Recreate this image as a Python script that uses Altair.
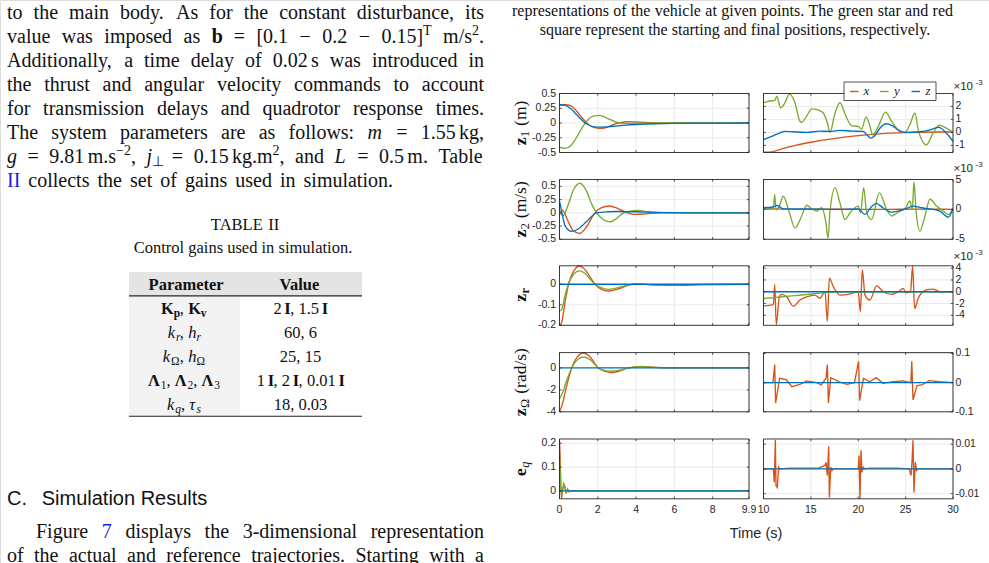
import altair as alt
import pandas as pd

# ---------------- fonts & colours ----------------
SERIF = "Liberation Serif"
SANS = "Liberation Sans"
INK = "#111111"
LINK = "#1a1aee"
RED, GREEN, BLUE = "#D95319", "#77AC30", "#0072BD"
AXIS = "#262626"
GRID = "#e2e2e2"

# ---------------- simulation traces: (time [s], value) ----------------
# left column, t in [0, 9.9]
Z1L_X = [(0, 0.31), (0.3, 0.31), (0.6, 0.29), (0.9, 0.2), (1.2, 0.08), (1.5, -0.02), (1.8, -0.075),
         (2.1, -0.09), (2.4, -0.08), (3.0, -0.005), (3.5, 0.022), (4.0, 0.018), (5.0, 0.003),
         (6.0, 0.0), (8.0, 0.0), (9.9, 0.0)]
Z1L_Y = [(0, -0.41), (0.3, -0.43), (0.6, -0.38), (0.9, -0.24), (1.2, -0.07), (1.5, 0.06), (1.8, 0.12),
         (2.1, 0.13), (2.5, 0.08), (3.0, 0.01), (3.5, -0.01), (4.0, -0.005), (5.0, 0.002),
         (6.0, 0.0), (8.0, 0.0), (9.9, 0.0)]
Z1L_Z = [(0, 0.31), (0.3, 0.30), (0.6, 0.24), (0.9, 0.14), (1.2, 0.04), (1.5, -0.03), (1.8, -0.065),
         (2.1, -0.07), (2.5, -0.065), (3.0, -0.05), (3.5, -0.035), (4.0, -0.025), (5.0, -0.012),
         (6.0, -0.006), (8.0, -0.002), (9.9, 0.0)]

Z2L_X = [(0, 0.0), (0.15, 0.05), (0.4, -0.12), (0.7, -0.33), (1.05, -0.39), (1.4, -0.27), (1.85, 0.0),
         (2.2, 0.10), (2.6, 0.13), (3.0, 0.09), (3.4, 0.02), (4.0, -0.03), (4.6, -0.015), (5.5, 0.0),
         (7.0, 0.0), (9.9, 0.0)]
Z2L_Y = [(0, 0.0), (0.2, -0.05), (0.45, 0.15), (0.75, 0.45), (1.07, 0.56), (1.4, 0.42), (1.7, 0.15),
         (1.94, 0.0), (2.3, -0.13), (2.64, -0.17), (3.0, -0.1), (3.3, -0.01), (3.7, 0.03), (4.1, 0.045),
         (4.6, 0.02), (5.5, 0.0), (7.0, 0.0), (9.9, 0.0)]
Z2L_Z = [(0, 0.22), (0.1, 0.05), (0.3, -0.25), (0.64, -0.35), (1.0, -0.30), (1.4, -0.17), (1.94, 0.0),
         (2.5, 0.02), (3.0, 0.025), (4.0, 0.02), (5.0, 0.01), (6.0, 0.003), (7.0, 0.0), (9.9, 0.0)]

ZRL_X = [(0, -0.2), (0.1, -0.19), (0.3, -0.08), (0.5, 0.01), (0.75, 0.065), (1.04, 0.089), (1.3, 0.075),
         (1.6, 0.035), (1.86, 0.0), (2.2, -0.025), (2.55, -0.033), (3.0, -0.025), (3.5, -0.008),
         (4.0, 0.003), (5.0, -0.004), (6.0, -0.005), (7.5, -0.002), (9.9, 0.0)]
ZRL_Y = [(0, -0.13), (0.1, -0.125), (0.3, -0.05), (0.5, 0.01), (0.75, 0.05), (1.04, 0.065), (1.3, 0.055),
         (1.6, 0.025), (1.86, 0.0), (2.2, -0.018), (2.55, -0.025), (3.0, -0.018), (3.5, -0.006),
         (4.0, 0.002), (5.0, -0.003), (6.0, -0.003), (7.5, -0.001), (9.9, 0.0)]
ZRL_Z = [(0, 0.0), (2.5, 0.0), (5.0, 0.0), (7.5, 0.0), (9.9, 0.0)]

ZOL_X = [(0, -4.0), (0.15, -3.3), (0.35, -1.8), (0.64, 0.0), (0.9, 0.95), (1.25, 1.36), (1.6, 1.0),
         (2.03, 0.0), (2.35, -0.3), (2.73, -0.42), (3.1, -0.3), (3.6, 0.0), (4.3, 0.15), (5.0, 0.05),
         (6.0, 0.0), (9.9, 0.0)]
ZOL_Y = [(0, -2.8), (0.15, -2.3), (0.35, -1.25), (0.64, 0.0), (0.9, 0.7), (1.25, 1.0), (1.6, 0.75),
         (2.03, 0.0), (2.35, -0.22), (2.73, -0.3), (3.1, -0.22), (3.6, 0.0), (4.3, 0.12), (5.0, 0.04),
         (6.0, 0.0), (9.9, 0.0)]
ZOL_Z = [(0, 0.0), (2.5, 0.0), (5.0, 0.0), (7.5, 0.0), (9.9, 0.0)]

EQL_X = [(0, 0.21), (0.03, 0.15), (0.07, 0.02), (0.11, -0.03), (0.16, 0.0), (0.22, 0.03), (0.28, 0.02),
         (0.35, -0.01), (0.42, 0.008), (0.5, -0.004), (0.6, 0.0), (1.0, 0.0), (9.9, 0.0)]
EQL_Y = [(0, 0.14), (0.03, 0.1), (0.07, 0.01), (0.11, -0.02), (0.16, 0.0), (0.22, 0.025), (0.28, 0.015),
         (0.35, -0.006), (0.42, 0.005), (0.5, -0.002), (0.6, 0.0), (1.0, 0.0), (9.9, 0.0)]
EQL_Z = [(0, 0.0), (2.5, 0.0), (5.0, 0.0), (7.5, 0.0), (9.9, 0.0)]

# right column, t in [10, 30]; rows 1-3 in units of 1e-3
Z1R_X = [(10, -1.52), (10.9, -1.5), (11.6, -1.35), (12.4, -1.18), (13.5, -0.98), (15, -0.76),
         (17.4, -0.48), (20, -0.25), (22.3, -0.11), (25, -0.02), (28.6, 0.03), (30, 0.03)]
Z1R_Y = [(10.0, 2.29), (10.69, 2.42), (11.21, 2.47), (11.39, 2.8), (11.81, 1.9), (12.27, 2.29),
         (12.73, 2.95), (13.32, 2.29), (13.85, 0.86), (14.03, 0.78), (14.55, 1.25), (15.08, 1.82),
         (15.79, 1.71), (16.31, 1.5), (16.74, 0.73), (17.02, 0.0), (17.55, 1.5), (18.07, 2.29),
         (18.7, 1.25), (19.3, 0.52), (20.0, 0.47), (20.36, 0.26), (20.82, 1.2), (21.24, 0.47),
         (21.52, -0.18), (22.12, 0.47), (22.89, 1.56), (23.52, 0.86), (24.23, 0.2), (24.93, 0.0),
         (25.45, 0.6), (25.98, 1.5), (26.33, 0.2), (27.2, -0.96), (27.9, -0.05), (28.55, 0.55),
         (29.15, 0.39), (30.0, 0.0)]
Z1R_Z = [(10, -0.57), (11, -0.26), (11.7, -0.05), (12.3, 0.08), (13.1, 0.05), (14.55, 0.0), (16, 0.1),
         (17, 0.08), (18, 0.16), (19.4, 0.1), (20.5, 0.08), (20.9, -0.18), (21.3, -0.44), (21.8, -0.2),
         (22.3, 0.34), (23, 0.67), (23.7, 0.47), (24.4, 0.08), (25.1, 0.0), (26.5, 0.05), (27.6, 0.2),
         (28.5, 0.39), (29.3, -0.05), (30, -0.7)]

Z2R_X = [(10, 0.05), (11.2, 0.1), (14, 0.0), (17, 0.05), (20, 0.0), (23, 0.0), (26, 0.05), (30, 0.0)]
Z2R_Y = [(10.0, 0.1), (11.04, 0.1), (11.18, 2.5), (11.32, -0.1), (11.67, 0.56), (12.09, 2.2),
         (12.73, -0.56), (13.32, -3.1), (14.03, -1.1), (14.55, 0.7), (15.08, 0.1), (15.61, -0.3),
         (16.13, 0.28), (16.59, -2.25), (16.81, -4.8), (17.02, -0.3), (17.55, 3.65), (18.07, 1.1),
         (18.6, -1.7), (19.13, -0.56), (20.0, 0.56), (20.25, -0.56), (20.57, 3.65), (20.89, -0.56),
         (21.41, -1.7), (22.22, 2.8), (23.0, 0.0), (23.52, -1.1), (24.23, -0.45), (25.0, 0.28),
         (25.45, 1.4), (25.7, 0.0), (25.88, 4.6), (26.09, 0.0), (26.51, -3.65), (27.04, -1.1),
         (27.57, 1.7), (28.27, 0.56), (28.98, -0.28), (29.51, -0.84), (30.0, 0.1)]
Z2R_Z = [(10.0, 0.28), (11.0, 0.4), (11.4, 0.67), (12.1, 0.1), (14.55, 0.1), (18.0, 0.0), (20.0, 0.1),
         (20.7, -0.84), (21.4, 0.45), (21.9, 1.0), (22.6, 0.28), (23.5, -0.45), (25.0, 0.1),
         (25.8, 0.56), (26.7, 0.28), (28.6, -0.28), (29.5, -1.3), (30.0, 0.1)]

ZRR_X = [(10.0, -2.4), (11.04, -2.2), (11.18, 1.25), (11.35, -5.6), (11.67, -0.86), (11.92, -0.45),
         (12.44, -0.86), (13.15, -2.45), (13.85, -1.4), (14.55, -0.86), (15.43, -0.57), (15.96, -1.1),
         (16.49, 0.0), (16.74, -5.0), (16.95, 2.3), (17.37, 0.86), (18.07, -0.57), (18.95, -0.45),
         (20.0, 0.0), (20.22, -3.4), (20.43, 3.7), (20.71, -0.57), (21.24, -1.4), (21.94, 1.0),
         (22.64, 0.0), (23.52, -0.45), (24.23, 0.0), (24.76, 0.57), (25.0, -0.17), (25.52, 0.0),
         (25.74, 4.35), (25.95, -2.85), (26.33, -1.1), (27.2, 0.3), (27.9, 0.45), (28.62, 0.0),
         (30.0, 0.0)]
ZRR_Y = [(10, -1.15), (12, -0.85), (14, -0.55), (16, -0.25), (17.7, 0.0), (20, 0.0), (25, 0.0), (30, 0.0)]
ZRR_Z = [(10, 0.0), (15, 0.0), (20, 0.0), (25, 0.0), (30, 0.0)]

ZOR_X = [(10.0, 0.0), (11.0, 0.0), (11.18, 0.062), (11.28, -0.07), (11.7, 0.015), (12.4, 0.01),
         (13.0, -0.014), (13.85, -0.006), (14.55, 0.006), (15.6, 0.0), (16.1, -0.008), (16.6, 0.015),
         (16.74, 0.062), (16.85, -0.07), (17.1, 0.017), (18.0, 0.003), (18.8, -0.006), (19.6, 0.0),
         (20.04, 0.073), (20.14, -0.062), (20.55, 0.015), (21.2, 0.003), (21.9, 0.017), (22.6, -0.002),
         (23.7, 0.003), (24.7, 0.006), (25.55, 0.0), (25.65, 0.073), (25.78, -0.059), (26.2, -0.01),
         (26.7, -0.008), (27.5, 0.007), (28.6, 0.003), (30.0, 0.0)]
ZOR_Z = [(10, 0.0), (15, 0.0), (20, 0.0), (25, 0.0), (30, 0.0)]

EQR_X = [(10.0, 0.0), (11.04, 0.0), (11.14, -0.0054), (11.25, 0.0118), (11.32, -0.0068), (11.46, -0.0075),
         (11.6, 0.0007), (11.74, 0.0), (12.8, 0.0003), (15.79, 0.0003), (16.49, 0.0014), (16.6, 0.0027),
         (16.74, -0.0027), (16.88, 0.0092), (16.95, -0.0116), (17.09, 0.0007), (17.23, -0.0007),
         (17.37, 0.0), (20.0, 0.0), (20.08, 0.0054), (20.18, -0.012), (20.29, 0.0075), (20.39, -0.0014),
         (20.53, 0.0007), (20.71, 0.0), (21.24, 0.0003), (24.05, 0.0003), (25.39, 0.0), (25.46, -0.0014),
         (25.57, -0.0027), (25.67, 0.0027), (25.78, 0.0116), (25.88, -0.0095), (26.02, 0.0027),
         (26.16, -0.0007), (26.33, 0.0), (30.0, 0.0)]
EQR_Z = [(10, 0.0), (15, 0.0), (20, 0.0), (25, 0.0), (30, 0.0)]

# ---------------- axes ----------------
LEFT_XDOM, RIGHT_XDOM = (0, 9.9), (10, 30)
LEFT_XTICKS, LEFT_XLABELS = [0, 2, 4, 6, 8, 9.9], ["0", "2", "4", "6", "8", "9.9"]
RIGHT_XTICKS, RIGHT_XLABELS = [10, 15, 20, 25, 30], ["10", "15", "20", "25", "30"]

LEFT_YDOM = [(-0.5, 0.5), (-0.5, 0.63), (-0.2, 0.09), (-4, 1.4), (-0.033, 0.218)]
LEFT_YTICKS = [[-0.5, -0.25, 0, 0.25, 0.5], [-0.5, -0.25, 0, 0.25, 0.5], [-0.2, -0.1, 0], [-4, -2, 0], [0, 0.1, 0.2]]
LEFT_YLABELS = [["-0.5", "-0.25", "0", "0.25", "0.5"], ["-0.5", "-0.25", "0", "0.25", "0.5"],
                ["-0.2", "-0.1", "0"], ["-4", "-2", "0"], ["0", "0.1", "0.2"]]
RIGHT_YDOM = [(-1.55, 3.0), (-5, 5), (-5.7, 4.4), (-0.1, 0.103), (-0.0121, 0.0121)]
RIGHT_YTICKS = [[-1, 0, 1, 2], [-5, 0, 5], [-4, -2, 0, 2, 4], [-0.1, 0, 0.1], [-0.01, 0, 0.01]]
RIGHT_YLABELS = [["-1", "0", "1", "2"], ["-5", "0", "5"], ["-4", "-2", "0", "2", "4"],
                 ["-0.1", "0", "0.1"], ["-0.01", "0", "0.01"]]

LEFT_TRACES = [[Z1L_X, Z1L_Y, Z1L_Z], [Z2L_X, Z2L_Y, Z2L_Z], [ZRL_X, ZRL_Y, ZRL_Z],
               [ZOL_X, ZOL_Y, ZOL_Z], [EQL_X, EQL_Y, EQL_Z]]
RIGHT_TRACES = [[Z1R_X, Z1R_Y, Z1R_Z], [Z2R_X, Z2R_Y, Z2R_Z], [ZRR_X, ZRR_Y, ZRR_Z],
                [ZOR_X, None, ZOR_Z], [EQR_X, None, EQR_Z]]

# panel placement on the page (pixels)
LEFT_PX = (559.5, 749.0)
RIGHT_PX = (763.5, 953.0)
ROW_PX = [(93.5, 152.5), (179.5, 239.3), (265.8, 325.3), (352.6, 411.8), (439.0, 498.8)]
EXP_LIFT = [3.5, 8.0, 5.5]   # gap between the x10^-3 marker baseline and the panel top

# ---------------- text layout helpers ----------------
TW = {' ': 250, '(': 333, ')': 333, ',': 250, '-': 333, '.': 250, '/': 278, ':': 278, '=': 564,
      '[': 333, ']': 333, '−': 564, '⊥': 660, 'Ω': 768, 'Λ': 722, 'τ': 440}
TW.update({c: 500 for c in "0123456789"})
TW.update(dict(A=722, B=667, C=667, D=722, E=611, F=556, G=722, H=722, I=333, J=389, K=722, L=611,
               M=889, N=722, O=722, P=556, Q=722, R=667, S=556, T=611, U=722, V=722, W=944, X=722,
               Y=722, Z=611))
TW.update(dict(a=444, b=500, c=444, d=500, e=444, f=333, g=500, h=500, i=278, j=278, k=500, l=278,
               m=778, n=500, o=500, p=500, q=500, r=333, s=389, t=278, u=500, v=500, w=722, x=500,
               y=500, z=444))

TXT = []


def R(text, size=20.0, weight="normal", style="normal", dy=0.0, color=INK, font=SERIF, pad=0.0):
    return dict(text=text, size=size, weight=weight, style=style, dy=dy, color=color, font=font, pad=pad)


def run_w(r):
    base = sum(TW.get(c, 500) for c in r["text"])
    if r["weight"] == "bold":
        base *= 1.06
    return base * r["size"] / 1000.0 + r["pad"]


def emit(r, x, y, angle=0.0, align="left"):
    TXT.append(dict(px=round(x, 2), py=round(y, 2), text=r["text"], size=r["size"], color=r["color"],
                    font=r["font"], weight=r["weight"], style=r["style"], angle=angle, align=align))


def words(s, size=20.0, **kw):
    return [[R(w, size, **kw)] for w in s.split()]


def set_line(ws, y, x0=0.0, x1=None, gap=None, cx=None):
    widths = [sum(run_w(r) for r in w) for w in ws]
    n = len(ws)
    if x1 is not None and n > 1:
        g = (x1 - x0 - sum(widths)) / (n - 1)
    else:
        g = gap
    if cx is not None:
        x0 = cx - (sum(widths) + g * (n - 1)) / 2.0
    x = x0
    for w, wd in zip(ws, widths):
        xx = x
        for r in w:
            emit(r, xx, y + r["dy"])
            xx += run_w(r)
        x += wd + g


def set_vertical(runs, cx, cy, fs):
    total = sum(run_w(r) for r in runs)
    bx = cx + 0.3 * fs
    y = cy + total / 2.0
    for r in runs:
        emit(r, bx + r["dy"], y, angle=270.0)
        y -= run_w(r)


# ---------------- body text, left column ----------------
BASE = [19.3 + 23.9 * i for i in range(8)]
SUP = 14.0
para = [
    words("to the main body. As for the constant disturbance, its"),
    words("value was imposed as") + [[R("b", weight="bold")], [R("=")], [R("[0.1")], [R("−")], [R("0.2")],
                                   [R("−")], [R("0.15]"), R("T", SUP, dy=-8.5)],
                                   [R("m/s"), R("2", SUP, dy=-8), R(".")]],
    words("Additionally, a time delay of") + [[R("0.02", pad=3.3), R("s")]] + words("was introduced in"),
    words("the thrust and angular velocity commands to account"),
    words("for transmission delays and quadrotor response times."),
    words("The system parameters are as follows:") + [[R("m", style="italic")], [R("=")],
                                                     [R("1.55", pad=3.3), R("kg,")]],
    [[R("g", style="italic")], [R("=")], [R("9.81", pad=3.3), R("m.s"), R("−2", SUP, dy=-8), R(",")],
     [R("j", style="italic"), R("⊥", SUP, dy=3)], [R("=")],
     [R("0.15", pad=3.3), R("kg.m"), R("2", SUP, dy=-8), R(",")], [R("and")], [R("L", style="italic")],
     [R("=")], [R("0.5", pad=3.3), R("m.")], [R("Table")]],
]
for ws, y in zip(para, BASE):
    set_line(ws, y, x0=7, x1=484)
set_line([[R("II", color=LINK)]] + words("collects the set of gains used in simulation."), BASE[7], x0=7, x1=393)

# table
TF = 16.5
set_line(words("TABLE II", TF), 229.5, gap=4.1, cx=245)
set_line(words("Control gains used in simulation.", TF), 252.5, gap=4.1, cx=243)
set_line(words("Parameter", TF, weight="bold"), 290, gap=4, cx=184)
set_line(words("Value", TF, weight="bold"), 290, gap=4, cx=300.5)
SB = 11.5
ROW_BASE = [313.8, 337.8, 361.5, 385.5, 409.5]
PARAMS = [
    [[R("K", TF, "bold"), R("p", SB, "bold", dy=3), R(",", TF)], [R("K", TF, "bold"), R("v", SB, "bold", dy=3)]],
    [[R("k", TF, style="italic"), R("r", SB, style="italic", dy=3), R(",", TF)],
     [R("h", TF, style="italic"), R("r", SB, style="italic", dy=3)]],
    [[R("k", TF, style="italic"), R("Ω", SB, dy=3), R(",", TF)], [R("h", TF, style="italic"), R("Ω", SB, dy=3)]],
    [[R("Λ", TF, "bold"), R("1", SB, dy=3), R(",", TF)], [R("Λ", TF, "bold"), R("2", SB, dy=3), R(",", TF)],
     [R("Λ", TF, "bold"), R("3", SB, dy=3)]],
    [[R("k", TF, style="italic"), R("q", SB, style="italic", dy=3), R(",", TF)],
     [R("τ", TF, style="italic"), R("s", SB, style="italic", dy=3)]],
]
VALUES = [
    [[R("2", TF, pad=2.7), R("I", TF, "bold"), R(",", TF)], [R("1.5", TF, pad=2.7), R("I", TF, "bold")]],
    words("60, 6", TF),
    words("25, 15", TF),
    [[R("1", TF, pad=2.7), R("I", TF, "bold"), R(",", TF)], [R("2", TF, pad=2.7), R("I", TF, "bold"), R(",", TF)],
     [R("0.01", TF, pad=2.7), R("I", TF, "bold")]],
    words("18, 0.03", TF),
]
for p, v, y in zip(PARAMS, VALUES, ROW_BASE):
    set_line(p, y, gap=4.2, cx=184)
    set_line(v, y, gap=4.2, cx=300.5)

# section heading and following paragraph
emit(R("C.", 20, font=SANS), 7, 505)
emit(R("Simulation Results", 20, font=SANS), 41.7, 505)
set_line([[R("Figure")], [R("7", color=LINK)]] + words("displays the 3-dimensional representation"),
         538.3, x0=36, x1=484)
set_line(words("of the actual and reference trajectories. Starting with a"), 561.7, x0=7, x1=484)

# caption lines above the figure
set_line(words("representations of the vehicle at given points. The green star and red", 16), 15.5, x0=512, x1=953)
set_line(words("square represent the starting and final positions, respectively.", 16), 34.5, gap=4, cx=735.5)

# ---------------- figure annotations ----------------
YT = 17.5
YS = 12.25
Y_TITLES = [
    [R("z", YT, "bold"), R("1", YS, dy=3, pad=5), R("(m)", YT)],
    [R("z", YT, "bold"), R("2", YS, dy=3, pad=5), R("(m/s)", YT)],
    [R("z", YT, "bold"), R("r", YS, "bold", dy=3)],
    [R("z", YT, "bold"), R("Ω", YS, dy=3, pad=5), R("(rad/s)", YT)],
    [R("e", YT, "bold"), R("q", YS, style="italic", dy=3)],
]
for runs, (y0, y1) in zip(Y_TITLES, ROW_PX):
    set_vertical(runs, 521, (y0 + y1) / 2.0, YT)

emit(R("Time (s)", 14.5, font=SANS, color=AXIS), 756, 538, align="center")
for i in range(3):
    base = ROW_PX[i][0] - EXP_LIFT[i]
    emit(R("×10", 11.5, font=SANS, color=AXIS), 953.5, base)
    emit(R("-3", 8, font=SANS, color=AXIS), 975.5, base - 5)
for letter, lx in [("x", 863.5), ("y", 894.0), ("z", 925.5)]:
    emit(R(letter, 13, style="italic", color=AXIS), lx, 95.0)

layers = []


def blank():
    return pd.DataFrame({"k": [0]})


# table shading and rules
layers.append(alt.Chart(blank()).mark_rect(color="#e4e4e4").encode(
    x=alt.value(129), x2=alt.value(362), y=alt.value(272), y2=alt.value(295.5)))
layers.append(alt.Chart(blank()).mark_rect(color="#f3f3f3").encode(
    x=alt.value(129), x2=alt.value(240), y=alt.value(296.2), y2=alt.value(415.8)))
layers.append(alt.Chart(blank()).mark_rule(color="#222222", strokeWidth=1.3).encode(
    x=alt.value(129), x2=alt.value(362), y=alt.value(295.8)))
layers.append(alt.Chart(blank()).mark_rule(color="#222222", strokeWidth=1.1).encode(
    x=alt.value(129), x2=alt.value(362), y=alt.value(416.2)))


def panel_layers(xdom, xpx, ydom, ypx, xticks, yticks, ylabels, traces, interp, side, xlabels=None):
    xs = alt.Scale(domain=list(xdom), range=list(xpx), nice=False, zero=False)
    ys = alt.Scale(domain=list(ydom), range=[ypx[1], ypx[0]], nice=False, zero=False)

    def X(f):
        return alt.X(f, scale=xs, axis=None)

    def Y(f):
        return alt.Y(f, scale=ys, axis=None)

    xt = pd.DataFrame({"t": xticks})
    yt = pd.DataFrame({"v": yticks, "lab": ylabels})
    out = [
        alt.Chart(xt).mark_rule(color=GRID, strokeWidth=0.7).encode(
            x=X("t:Q"), y=alt.value(ypx[0]), y2=alt.value(ypx[1])),
        alt.Chart(yt).mark_rule(color=GRID, strokeWidth=0.7).encode(
            y=Y("v:Q"), x=alt.value(xpx[0]), x2=alt.value(xpx[1])),
    ]
    for pairs, col in zip(traces, [RED, GREEN, BLUE]):
        if pairs is None:
            continue
        df = pd.DataFrame(pairs, columns=["t", "v"])
        out.append(alt.Chart(df).mark_line(color=col, strokeWidth=1.35, interpolate=interp).encode(
            x=X("t:Q"), y=Y("v:Q")))
    for a, b in [(ypx[1], ypx[1] - 2.2), (ypx[0], ypx[0] + 2.2)]:
        out.append(alt.Chart(xt).mark_rule(color=AXIS, strokeWidth=0.8).encode(
            x=X("t:Q"), y=alt.value(a), y2=alt.value(b)))
    for a, b in [(xpx[0], xpx[0] + 2.2), (xpx[1], xpx[1] - 2.2)]:
        out.append(alt.Chart(yt).mark_rule(color=AXIS, strokeWidth=0.8).encode(
            y=Y("v:Q"), x=alt.value(a), x2=alt.value(b)))
    out.append(alt.Chart(blank()).mark_rect(fillOpacity=0, stroke=AXIS, strokeWidth=0.9).encode(
        x=alt.value(xpx[0]), x2=alt.value(xpx[1]), y=alt.value(ypx[0]), y2=alt.value(ypx[1])))
    if side == "left":
        align, lx = "right", xpx[0] - 3.5
    else:
        align, lx = "left", xpx[1] + 2.5
    out.append(alt.Chart(yt).mark_text(font=SANS, fontSize=10.5, color=AXIS, align=align, baseline="middle").encode(
        y=Y("v:Q"), x=alt.value(lx), text="lab:N"))
    if xlabels is not None:
        xl = pd.DataFrame({"t": xticks, "lab": xlabels})
        out.append(alt.Chart(xl).mark_text(font=SANS, fontSize=10.5, color=AXIS, align="center",
                                           baseline="middle").encode(
            x=X("t:Q"), y=alt.value(509.5), text="lab:N"))
    return out


for i in range(5):
    last = i == 4
    layers += panel_layers(LEFT_XDOM, LEFT_PX, LEFT_YDOM[i], ROW_PX[i], LEFT_XTICKS, LEFT_YTICKS[i],
                           LEFT_YLABELS[i], LEFT_TRACES[i], "linear" if last else "monotone", "left",
                           LEFT_XLABELS if last else None)
    layers += panel_layers(RIGHT_XDOM, RIGHT_PX, RIGHT_YDOM[i], ROW_PX[i], RIGHT_XTICKS, RIGHT_YTICKS[i],
                           RIGHT_YLABELS[i], RIGHT_TRACES[i], "linear" if i >= 3 else "monotone", "right",
                           RIGHT_XLABELS if last else None)

# legend box of the first right-hand panel
layers.append(alt.Chart(blank()).mark_rect(fill="white", stroke=AXIS, strokeWidth=0.8).encode(
    x=alt.value(844), x2=alt.value(936), y=alt.value(82), y2=alt.value(100.5)))
for col, a in [(RED, 850.0), (GREEN, 880.0), (BLUE, 911.5)]:
    layers.append(alt.Chart(blank()).mark_rule(color=col, strokeWidth=1.4).encode(
        x=alt.value(a), x2=alt.value(a + 8.5), y=alt.value(91.5)))

# all text runs, grouped by typeface settings
tdf = pd.DataFrame(TXT)
for (font, weight, style, angle, align), g in tdf.groupby(["font", "weight", "style", "angle", "align"]):
    layers.append(alt.Chart(g[["px", "py", "text", "size", "color"]]).mark_text(
        font=font, fontWeight=weight, fontStyle=style, angle=float(angle), align=align, baseline="alphabetic"
    ).encode(
        x=alt.X("px:Q", scale=None, axis=None),
        y=alt.Y("py:Q", scale=None, axis=None),
        text="text:N",
        size=alt.Size("size:Q", scale=None),
        color=alt.Color("color:N", scale=None),
    ))

chart = alt.layer(*layers).resolve_scale(x="independent", y="independent").properties(
    width=989, height=563, padding=0, autosize=alt.AutoSizeParams(type="none"),
).configure_view(stroke=None).configure(background="white")

chart.save("out.html", embed_options={"renderer": "svg", "actions": False})
